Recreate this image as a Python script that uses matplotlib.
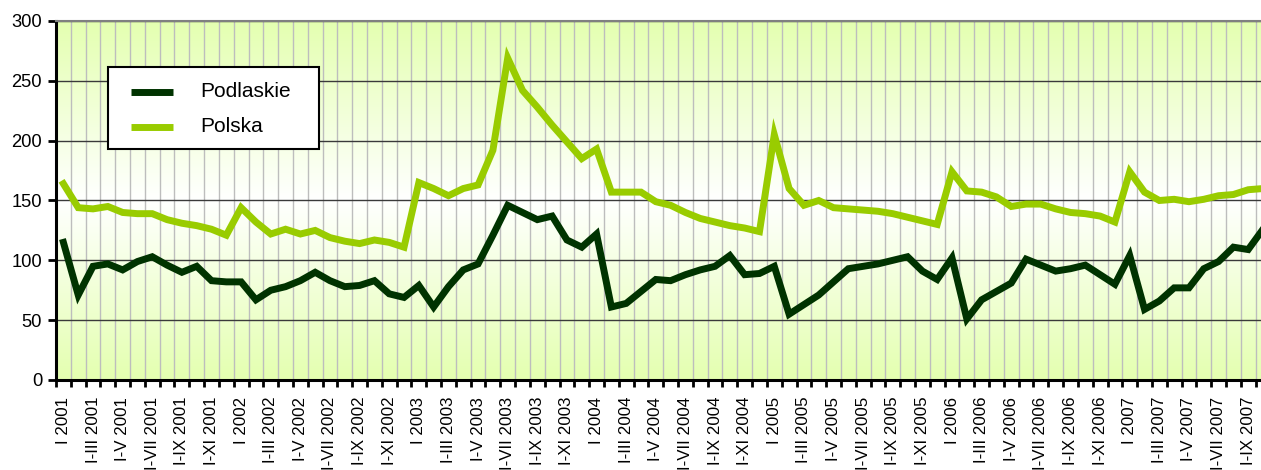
import numpy as np
import matplotlib
matplotlib.use("Agg")
import matplotlib.pyplot as plt
from matplotlib.colors import LinearSegmentedColormap
from matplotlib.lines import Line2D
from matplotlib.patches import Rectangle

plt.rcParams['font.family'] = ['Liberation Sans', 'DejaVu Sans']

# months I 2001 .. I-X 2007 (cumulative periods), one value per month
YEARS = [2001, 2002, 2003, 2004, 2005, 2006, 2007]
ROMAN = ["I", "II", "III", "IV", "V", "VI", "VII", "VIII", "IX", "X", "XI", "XII"]

podlaskie = [
    115, 71, 95, 97, 92, 99, 103, 96, 90, 95, 83, 82,      # 2001
    82, 67, 75, 78, 83, 90, 83, 78, 79, 83, 72, 69,        # 2002
    79, 61, 78, 92, 97, 121, 146, 140, 134, 137, 117, 111, # 2003
    122, 61, 64, 74, 84, 83, 88, 92, 95, 104, 88, 89,      # 2004
    95, 55, 63, 71, 82, 93, 95, 97, 100, 103, 91, 84,      # 2005
    102, 51, 67, 74, 81, 101, 96, 91, 93, 96, 88, 80,      # 2006
    104, 59, 66, 77, 77, 93, 99, 111, 109, 126,            # 2007
]
polska = [
    164, 144, 143, 145, 140, 139, 139, 134, 131, 129, 126, 121,
    144, 132, 122, 126, 122, 125, 119, 116, 114, 117, 115, 111,
    165, 160, 154, 160, 163, 192, 269, 242, 228, 213, 199, 185,
    193, 157, 157, 157, 149, 146, 140, 135, 132, 129, 127, 124,
    205, 160, 146, 150, 144, 143, 142, 141, 139, 136, 133, 130,
    174, 158, 157, 153, 145, 147, 147, 143, 140, 139, 137, 132,
    174, 157, 150, 151, 149, 151, 154, 155, 159, 160,
]
series_names = ["Podlaskie", "Polska"]
series_colors = ["#003300", "#99CC00"]

n = len(podlaskie)
labels = []
for i in range(n):
    yr = YEARS[i // 12]
    m = i % 12
    labels.append(f"I {yr}" if m == 0 else f"I-{ROMAN[m]} {yr}")

W, H = 1261, 470
fig = plt.figure(figsize=(W / 100, H / 100), dpi=100)
step = 14.81
ax = fig.add_axes([56 / W, 90 / H, n * step / W, 359 / H])

# background gradient: pale green at edges, white in the middle
cmap = LinearSegmentedColormap.from_list("bg", ["#E4FFB0", "#FFFFFF", "#E4FFB0"])
grad = np.linspace(0, 1, 256).reshape(-1, 1)
ax.imshow(grad, cmap=cmap, extent=[0, 1, 0, 1], transform=ax.transAxes,
          aspect='auto', zorder=0, interpolation='bicubic')

x = np.arange(n)
for vals, name, col in zip([podlaskie, polska], series_names, series_colors):
    ax.plot(x, vals, color=col, lw=5, label=name, zorder=3, solid_joinstyle='miter')

ax.set_xlim(-0.5, n - 0.5)
ax.set_ylim(0, 300)
ax.set_yticks(np.arange(0, 301, 50))

ax.set_xticks(np.arange(-0.5, n, 1))
ax.set_xticklabels([])
ax.set_xticks(x[::2], minor=True)
ax.set_xticklabels(labels[::2], minor=True, rotation=90, fontsize=12.2)
ax.tick_params(axis='x', which='major', direction='out', length=5, width=2, color='black')
ax.tick_params(axis='x', which='minor', length=0, pad=12)
ax.tick_params(axis='y', direction='out', length=6, width=2, labelsize=13.2, pad=4)

ax.grid(axis='x', which='major', color='#BDBDBD', lw=1, zorder=1)
ax.grid(axis='y', color='#3a3a3a', lw=1, zorder=1)
ax.set_axisbelow(True)

for s in ['left', 'bottom']:
    ax.spines[s].set_linewidth(2.2)
    ax.spines[s].set_color('black')
ax.spines['top'].set_color('#808080')
ax.spines['top'].set_linewidth(1.5)
ax.spines['right'].set_color('#808080')

# legend box drawn in figure pixels
def fx(px):
    return px / W

def fy(py):
    return 1 - py / H

fig.add_artist(Rectangle((fx(108), fy(149)), fx(319) - fx(108), fy(67) - fy(149),
                         transform=fig.transFigure, facecolor='white',
                         edgecolor='black', lw=1.5, zorder=5))
for k, (name, col) in enumerate(zip(series_names, series_colors)):
    yy = fy(91.5 + 35 * k)
    fig.add_artist(Line2D([fx(131), fx(173)], [yy, yy], color=col, lw=5,
                          solid_capstyle='butt', transform=fig.transFigure, zorder=6))
    fig.text(fx(200), yy, name, fontsize=15, va='center', ha='left', zorder=6)

fig.savefig("out.png", dpi=100)
